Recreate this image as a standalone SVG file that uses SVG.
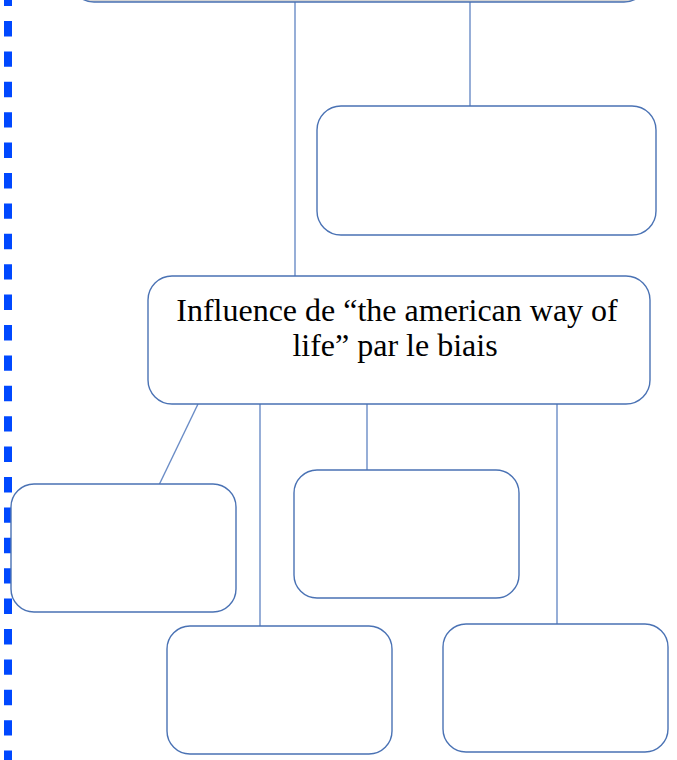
<svg xmlns="http://www.w3.org/2000/svg" width="677" height="760" viewBox="0 0 677 760">
<style>
.box{fill:#ffffff;stroke:#4a72b4;stroke-width:1.4}
.ln{fill:none;stroke:#6a8cc6;stroke-width:1.4}
.t{font-family:"Liberation Serif","Times New Roman",serif;font-size:32px;fill:#000000;text-anchor:middle}
</style>
<rect width="677" height="760" fill="#ffffff"/>
<line x1="8" y1="-9.4" x2="8" y2="770" stroke="#0048ff" stroke-width="8" stroke-dasharray="15.4 15"/>
<g id="connectors">
<line class="ln" x1="295" y1="2" x2="295" y2="276"/>
<line class="ln" x1="470" y1="2" x2="470" y2="106"/>
<line class="ln" x1="198" y1="404" x2="159" y2="485"/>
<line class="ln" x1="260" y1="404" x2="260" y2="626"/>
<line class="ln" x1="367" y1="404" x2="367" y2="470"/>
<line class="ln" x1="557" y1="404" x2="557" y2="624"/>
</g>
<g id="top"><rect class="box" x="70" y="-126" width="578" height="128" rx="24" style="fill:#d4d4d4"/></g>
<g id="boxA"><rect class="box" x="317" y="106" width="339" height="129" rx="24"/></g>
<g id="main"><rect class="box" x="148" y="276" width="502" height="128" rx="24"/>
<text class="t" x="397" y="320.5">Influence de “the american way of</text>
<text class="t" x="395" y="356">life” par le biais</text></g>
<g id="boxB"><rect class="box" x="11" y="484" width="225" height="128" rx="23"/></g>
<g id="boxC"><rect class="box" x="294" y="470" width="225" height="128" rx="23"/></g>
<g id="boxD"><rect class="box" x="167" y="626" width="225" height="128" rx="23"/></g>
<g id="boxE"><rect class="box" x="443" y="624" width="225" height="128" rx="23"/></g>
</svg>
